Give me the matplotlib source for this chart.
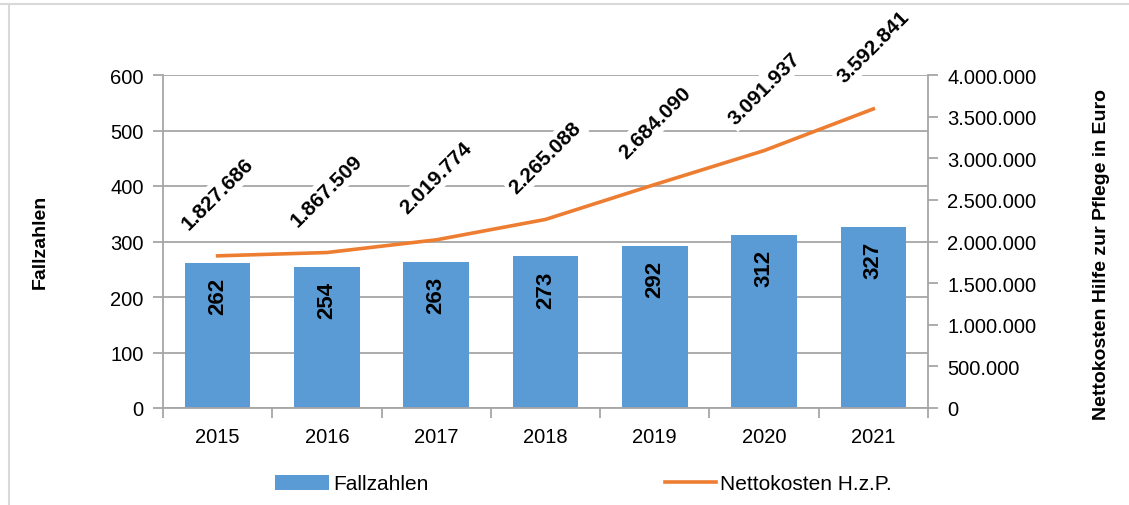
import matplotlib
matplotlib.use("Agg")
import matplotlib.pyplot as plt
from matplotlib.lines import Line2D
from matplotlib.patches import Patch
from matplotlib.ticker import FuncFormatter, FixedLocator

years = ["2015", "2016", "2017", "2018", "2019", "2020", "2021"]
fallzahlen = [262, 254, 263, 273, 292, 312, 327]
nettokosten = [1827686, 1867509, 2019774, 2265088, 2684090, 3091937, 3592841]

plt.rcParams["font.family"] = ["Liberation Sans", "DejaVu Sans"]

BLUE = "#5B9BD5"
ORANGE = "#ED7D31"
GRID = "#A6A6A6"
TICK_FS = 14.5

def de_fmt(v, pos=None):
    return f"{int(round(v)):,}".replace(",", ".")

fig = plt.figure(figsize=(11.29, 5.06), dpi=100)
ax = fig.add_axes([163/1129, 1-409/506, (928-163)/1129, (409-76)/506])
ax2 = ax.twinx()

x = list(range(len(years)))
bars = ax.bar(x, fallzahlen, width=0.6, color=BLUE, zorder=2)
ax.set_ylim(0, 600)
ax.set_xlim(-0.5, len(years)-0.5)
ax.set_yticks(range(0, 601, 100))
ax.yaxis.grid(True, color=GRID, linewidth=1.3, zorder=0)
ax.set_axisbelow(True)
ax.set_xticks(x)
ax.set_xticklabels(years)
ax.xaxis.set_minor_locator(FixedLocator([i - 0.5 for i in range(len(years)+1)]))
ax.tick_params(axis="x", which="major", length=0, labelsize=TICK_FS, pad=14)
ax.tick_params(axis="x", which="minor", length=7, color=GRID, width=1.3)
ax.tick_params(axis="y", length=7, color=GRID, width=1.3, labelsize=TICK_FS, pad=7)

for b, v in zip(bars, fallzahlen):
    ax.annotate(str(v), (b.get_x() + b.get_width()/2, v), xytext=(0, -10),
                textcoords="offset points", rotation=90, ha="center", va="top",
                fontsize=16, fontweight="bold", zorder=5)

ax2.plot(x, nettokosten, color=ORANGE, linewidth=2.6, zorder=3)
ax2.set_ylim(0, 4000000)
ax2.set_yticks(range(0, 4000001, 500000))
ax2.yaxis.set_major_formatter(FuncFormatter(de_fmt))
ax2.tick_params(axis="y", length=7, color=GRID, width=1.3, labelsize=TICK_FS, pad=7)

for xi, v in zip(x, nettokosten):
    ax2.annotate(de_fmt(v), (xi, v), xytext=(0, 45), textcoords="offset points",
                 rotation=45, rotation_mode="anchor", ha="center", va="center",
                 fontsize=15, fontweight="bold", zorder=6,
                 bbox=dict(boxstyle="square,pad=0.15", fc="white", ec="none"))

for a in (ax, ax2):
    a.spines["top"].set_visible(False)
    for s in ("left", "right", "bottom"):
        a.spines[s].set_color(GRID)
        a.spines[s].set_linewidth(1.3)
ax.spines["right"].set_visible(False)
ax2.spines["left"].set_visible(False)
ax2.spines["bottom"].set_visible(False)

fig.text(40/1129, 1-242/506, "Fallzahlen", rotation=90, ha="center", va="center",
         fontsize=14, fontweight="bold")
fig.text(1102/1129, 1-255/506, "Nettokosten Hilfe zur Pflege in Euro", rotation=90,
         ha="center", va="center", fontsize=14, fontweight="bold")

leg1 = fig.legend([Patch(facecolor=BLUE, edgecolor="none")], ["Fallzahlen"],
                  loc="center left", bbox_to_anchor=(275/1129, 1-485/506),
                  frameon=False, fontsize=15, handlelength=2.6, handleheight=0.7,
                  handletextpad=0.2, borderaxespad=0, borderpad=0)
leg2 = fig.legend([Line2D([0], [0], color=ORANGE, linewidth=2.6)], ["Nettokosten H.z.P."],
                  loc="center left", bbox_to_anchor=(665/1129, 1-485/506),
                  frameon=False, fontsize=15, handlelength=2.45,
                  handletextpad=0.2, borderaxespad=0, borderpad=0)

fig.add_artist(Line2D([0, 1], [1-5/506, 1-5/506], color="#D9D9D9", linewidth=1.5,
                      transform=fig.transFigure))
fig.add_artist(Line2D([8.5/1129, 8.5/1129], [0, 1-5/506], color="#D9D9D9", linewidth=1.5,
                      transform=fig.transFigure))

fig.savefig("out.png", dpi=100)
